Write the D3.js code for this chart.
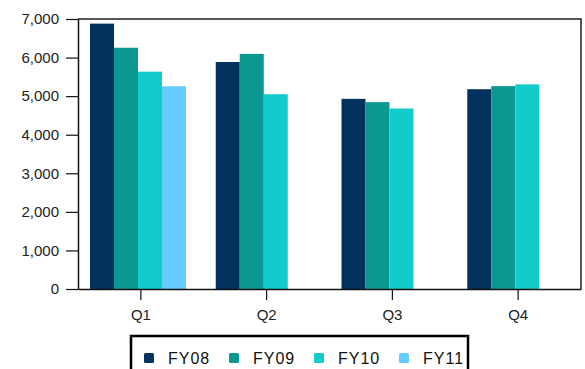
<!DOCTYPE html>
<html><head><meta charset="utf-8">
<script src="https://cdn.jsdelivr.net/npm/d3@7"></script>
<style>body{margin:0;background:#fff}svg{display:block}</style>
</head><body><svg id="c" width="585" height="369"></svg>
<script>
const categories = ["Q1","Q2","Q3","Q4"];
const series = ["FY08","FY09","FY10","FY11"];
const FY08 = [6880, 5885, 4930, 5180];
const FY09 = [6255, 6095, 4845, 5260];
const FY10 = [5635, 5050, 4680, 5305];
const FY11 = [5255, null, null, null];
const colors = ["#04325f", "#0b9893", "#12cccb", "#66ccff"];
const yTicks = [0,1000,2000,3000,4000,5000,6000,7000];

const values = {FY08, FY09, FY10, FY11};
const svg = d3.select("#c");
const L = 78, R = 581, T = 19, B = 289;
const x = d3.scaleBand().domain(categories).range([L, R]).padding(0);
const x1 = d3.scaleBand().domain(series).range([12, 12 + 96]).padding(0);
const y = d3.scaleLinear().domain([0, 7000]).range([B, T]);
const fmt = d3.format(",");

// bars
series.forEach((s, i) => {
  svg.append("g").selectAll("rect")
    .data(categories.map((c, j) => ({c, v: values[s][j]})).filter(d => d.v != null))
    .join("rect")
    .attr("x", d => x(d.c) + x1(s))
    .attr("y", d => y(d.v))
    .attr("width", x1.bandwidth())
    .attr("height", d => B - y(d.v))
    .attr("fill", colors[i]);
});

// frame
svg.append("path")
  .attr("d", `M${L},${T}H${R}V${B}`)
  .attr("fill", "none").attr("stroke", "#222").attr("stroke-width", 1.5);

// y axis
const ya = svg.append("g").attr("transform", `translate(${L},0)`)
  .call(d3.axisLeft(y).tickValues(yTicks).tickFormat(fmt).tickSize(12).tickSizeOuter(0).tickPadding(7));
ya.select(".domain").attr("stroke", "#111").attr("stroke-width", 1.5);
ya.selectAll(".tick line").attr("stroke", "#111").attr("stroke-width", 1.2);
ya.selectAll("text").attr("font-family", "Arial, 'Liberation Sans', sans-serif").attr("font-size", 15).attr("fill", "#222");

// x axis
const xa = svg.append("g").attr("transform", `translate(0,${B})`)
  .call(d3.axisBottom(x).tickSize(11).tickSizeOuter(0).tickPadding(9));
xa.select(".domain").attr("stroke", "#111").attr("stroke-width", 1.5);
xa.selectAll(".tick line").attr("stroke", "#111").attr("stroke-width", 1.2);
xa.selectAll("text").attr("font-family", "Arial, 'Liberation Sans', sans-serif").attr("font-size", 15).attr("fill", "#222");

// legend
const lg = svg.append("g");
lg.append("rect").attr("x", 131).attr("y", 336).attr("width", 337).attr("height", 45)
  .attr("fill", "#fff").attr("stroke", "#000").attr("stroke-width", 2.5);
const lx = d3.scalePoint().domain(series).range([144, 399]);
series.forEach((s, i) => {
  lg.append("rect").attr("x", lx(s)).attr("y", 353).attr("width", 10).attr("height", 10)
    .attr("rx", 1.5).attr("fill", colors[i]);
  lg.append("text").attr("x", lx(s) + 24).attr("y", 364)
    .attr("font-family", "Arial, 'Liberation Sans', sans-serif").attr("font-size", 16)
    .attr("letter-spacing", 1).attr("fill", "#111").text(s);
});
</script></body></html>
